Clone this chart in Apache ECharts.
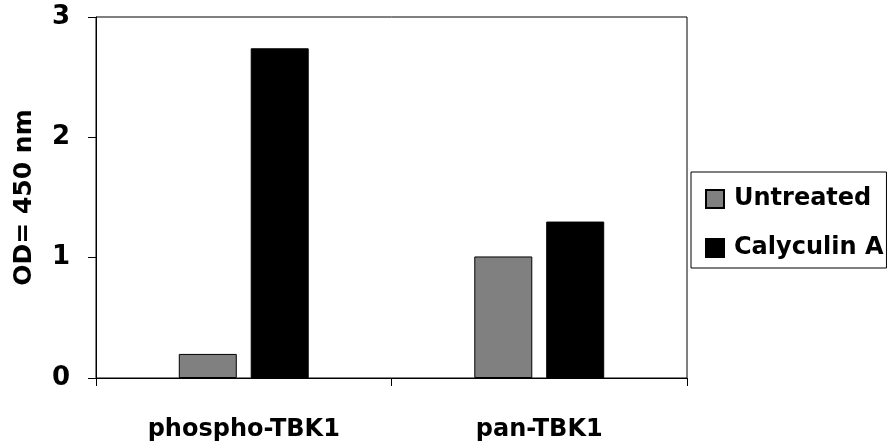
<!DOCTYPE html>
<html>
<head>
<meta charset="utf-8">
<script src="https://cdn.jsdelivr.net/npm/echarts@6/dist/echarts.min.js"></script>
<style>html,body{margin:0;padding:0;background:#fff;}#c{width:890px;height:445px;}</style>
</head>
<body>
<div id="c"></div>
<script>
var categories = ['phospho-TBK1', 'pan-TBK1'];
var untreated = [0.20, 1.01];
var calyculinA = [2.74, 1.30];
var yTicks = [0, 1, 2, 3];
var seriesNames = ['Untreated', 'Calyculin A'];

var FONT = 'DejaVu Sans';
var chart = echarts.init(document.getElementById('c'), null, {renderer: 'canvas'});
chart.setOption({
  animation: false,
  backgroundColor: '#fff',
  grid: {left: 96, right: 203, top: 17, bottom: 67, containLabel: false, outerBoundsMode: 'none',
         show: true, borderColor: '#000', borderWidth: 1, backgroundColor: 'transparent'},
  legend: {
    orient: 'vertical', left: 691, top: 172,
    data: seriesNames,
    itemWidth: 18, itemHeight: 18, itemGap: 25,
    padding: [15, 3, 8, 14],
    borderColor: '#000', borderWidth: 1, backgroundColor: '#fff',
    icon: 'rect',
    textStyle: {fontFamily: FONT, fontWeight: 'bold', fontSize: 24, color: '#000', padding: [0, 0, 0, 5]}
  },
  xAxis: {
    type: 'category', data: categories,
    axisLine: {lineStyle: {color: '#000', width: 1}},
    axisTick: {show: true, length: 8, lineStyle: {color: '#000'}},
    axisLabel: {fontFamily: FONT, fontWeight: 'bold', fontSize: 24, color: '#000', margin: 40}
  },
  yAxis: {
    type: 'value', min: yTicks[0], max: yTicks[yTicks.length - 1], interval: 1,
    name: 'OD= 450 nm', nameLocation: 'middle', nameGap: 59, nameRotate: 90,
    nameTextStyle: {fontFamily: FONT, fontWeight: 'bold', fontSize: 25, color: '#000'},
    axisLine: {show: true, lineStyle: {color: '#000', width: 1}},
    axisTick: {show: true, length: 8, lineStyle: {color: '#000'}},
    splitLine: {show: false},
    axisLabel: {fontFamily: FONT, fontWeight: 'bold', fontSize: 26, color: '#000', margin: 26,
                padding: [4, 0, 0, 0]}
  },
  series: [
    {name: seriesNames[0], type: 'bar', data: untreated, barWidth: 58, barGap: '24%',
     itemStyle: {color: '#808080', borderColor: '#000', borderWidth: 1}},
    {name: seriesNames[1], type: 'bar', data: calyculinA, barWidth: 58,
     itemStyle: {color: '#000', borderColor: '#000', borderWidth: 1}}
  ]
});
</script>
</body>
</html>
